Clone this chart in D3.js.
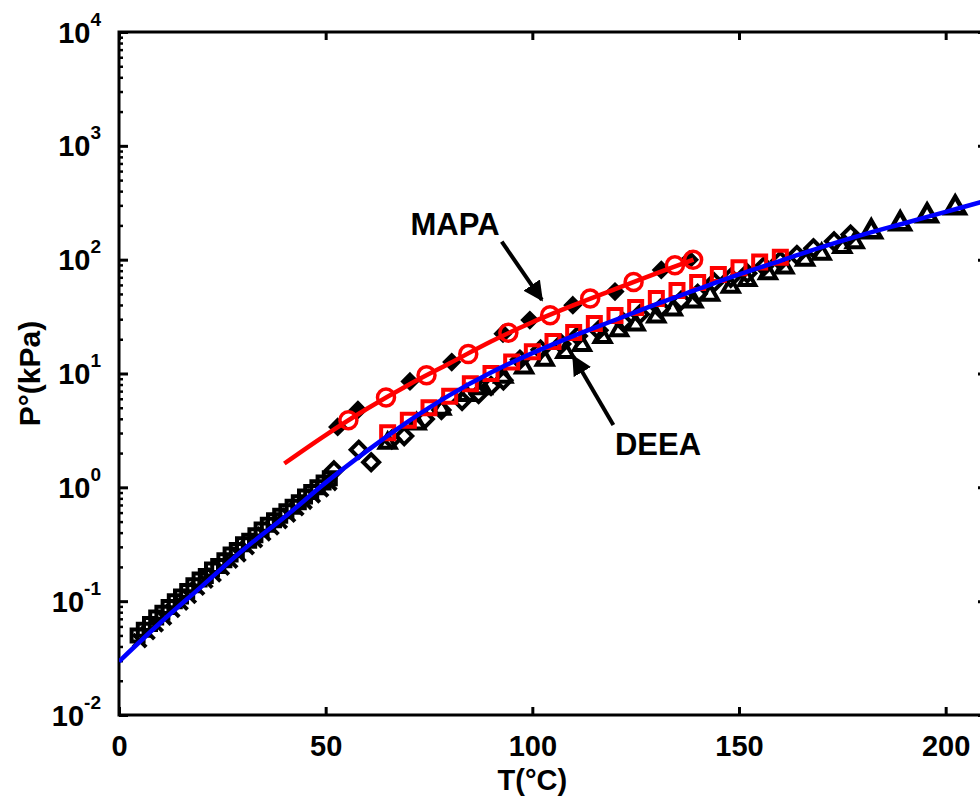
<!DOCTYPE html>
<html>
<head>
<meta charset="utf-8">
<script src="https://cdn.jsdelivr.net/npm/d3@7"></script>
<style>
    body { margin: 0; background: #fff; }
    text { font-family: "Liberation Sans", Arial, Helvetica, sans-serif; font-weight: bold; fill: #000; }
</style>
</head>
<body>
<div id="chart"></div>
<script>
// ---- data (T in degC, P in kPa) ----
const xTicks = [0, 50, 100, 150, 200];
const yTicks = [1e-2, 1e-1, 1e0, 1e1, 1e2, 1e3, 1e4];
const yExponents = ["-2", "-1", "0", "1", "2", "3", "4"];

// blue model curve (DEEA)
const blueT = [0, 10, 20, 30, 40, 50, 60, 70, 80, 90, 100, 110, 120, 130, 140, 150, 160, 170, 180, 190, 200, 210];
const blueP = [0.0295, 0.0646, 0.135, 0.282, 0.545, 1.10, 2.09, 3.80, 6.46, 10.2, 15.1, 21.4, 29.5, 40.7, 55.0, 74.1, 97.7, 129, 166, 209, 263, 331];

// red model curve (MAPA)
const mapaT = [40, 50, 60, 70, 80, 90, 100, 110, 120, 130, 139];
const mapaP = [1.62, 2.88, 4.90, 7.94, 12.3, 19.1, 28.2, 39.8, 55.0, 75.9, 100];

// red circles (MAPA, this work)
const mapaCircT = [55.5, 64.6, 74.4, 84.5, 94.2, 104.3, 114, 124.5, 134.5, 138.9];
const mapaCircP = [3.89, 6.15, 9.66, 14.8, 22.8, 32.5, 45.5, 63.7, 89.3, 100];

// black markers behind the MAPA circles (literature)
const mapaLitT = [52.9, 57.8, 70.4, 80.5, 92.9, 99.4, 109.8, 120, 131.2, 138];
const mapaLitP = [3.39, 4.79, 8.51, 12.6, 22.4, 29.5, 39.8, 52.5, 81.3, 100];

// red squares (DEEA, this work)
const deeaSqT = [65, 70, 75, 80, 85, 90, 95, 100, 105, 110, 115, 120, 125, 130, 135, 140, 145, 150, 155, 160];
const deeaSqP = [3.02, 3.89, 5.01, 6.31, 8.13, 10.0, 12.6, 15.5, 19.1, 22.9, 27.5, 32.4, 38.0, 45.7, 53.7, 63.1, 74.1, 85.1, 95.5, 105];

// black literature data for DEEA
const litSqT = [4.5, 6, 7.5, 9, 10.5, 12, 13.5, 15, 16.5, 18, 19.5, 21, 22.5, 24, 25.5, 27, 28.5, 30, 31.5, 33, 34.5, 36, 37.5, 39, 40.5, 42, 43.5, 45, 46.5, 48, 49.5, 51];
const litSqP = [0.050, 0.056, 0.063, 0.072, 0.079, 0.089, 0.100, 0.110, 0.123, 0.138, 0.155, 0.166, 0.190, 0.204, 0.229, 0.257, 0.282, 0.316, 0.339, 0.380, 0.427, 0.468, 0.513, 0.562, 0.617, 0.676, 0.741, 0.832, 0.912, 1.00, 1.10, 1.20];

const litCrossT = [5, 7, 9, 11, 13, 15, 17, 19, 21, 23, 25, 27, 29, 31, 33, 35, 37, 39, 41, 43, 45, 47, 49, 51];
const litCrossP = [0.045, 0.053, 0.062, 0.071, 0.083, 0.096, 0.11, 0.13, 0.15, 0.17, 0.195, 0.225, 0.255, 0.295, 0.34, 0.39, 0.44, 0.50, 0.57, 0.65, 0.74, 0.84, 0.95, 1.08];

const litDiaT = [52, 58, 61, 66, 69, 74, 78, 83, 87, 90, 93, 97, 102, 107, 111, 116, 122, 126, 131, 136, 140, 144, 148, 152, 156, 160, 164, 168, 173, 177];
const litDiaP = [1.41, 2.14, 1.66, 2.63, 2.82, 3.98, 4.79, 5.75, 6.61, 7.76, 8.71, 13.2, 16.2, 18.2, 21.4, 24.0, 28.2, 33.1, 37.2, 43.7, 50.1, 63.1, 69.2, 75.9, 87.1, 97.7, 110, 126, 145, 166];

const litTriT = [65, 72, 78, 84, 88, 93, 98, 103, 108, 112, 117, 121, 125, 130, 134, 139, 143, 148, 152, 157, 161, 166, 170, 175, 178, 182, 189, 195.5, 202.3];
const litTriP = [2.51, 3.72, 5.01, 6.61, 7.59, 9.55, 11.5, 13.5, 15.8, 18.2, 21.4, 24.5, 27.5, 32.4, 37.2, 43.7, 50.1, 58.9, 67.6, 77.6, 87.1, 102, 115, 132, 145, 182, 214, 251, 295];

// annotations (data coordinates)
const notes = [
    {label: "MAPA", tx: 81.3, tp: 165, x0: 92.6, p0: 144, x1: 102.3, p1: 44.3},
    {label: "DEEA", tx: 130.4, tp: 1.92, x0: 119.6, p0: 3.53, x1: 109.9, p1: 14.1}
];

// ---- chart ----
const width = 980, height = 798;
const plot = {left: 119, right: 987, top: 32, bottom: 715};

const svg = d3.select("#chart").append("svg")
    .attr("width", width)
    .attr("height", height);

const x = d3.scaleLinear().domain([0, 210]).range([plot.left, plot.right]);
const y = d3.scaleLog().domain([1e-2, 1e4]).range([plot.bottom, plot.top]);

svg.append("clipPath").attr("id", "clip")
    .append("rect")
    .attr("x", plot.left).attr("y", plot.top)
    .attr("width", plot.right - plot.left).attr("height", plot.bottom - plot.top);

// minor log ticks
const minorTicks = [];
for (let e = -2; e < 4; e++) {
    for (let m = 2; m <= 9; m++) minorTicks.push(m * Math.pow(10, e));
}

function styleAxis(g, w) {
    g.select(".domain").remove();
    g.selectAll(".tick line").attr("stroke", "#000").attr("stroke-width", w);
}

// bottom axis
const xG = svg.append("g")
    .attr("transform", `translate(0,${plot.bottom})`)
    .call(d3.axisBottom(x).tickValues(xTicks).tickSize(-8).tickPadding(20).tickSizeOuter(0));
styleAxis(xG, 3);
xG.selectAll(".tick text").style("font-size", "29px");

// top axis
const xTopG = svg.append("g")
    .attr("transform", `translate(0,${plot.top})`)
    .call(d3.axisTop(x).tickValues(xTicks).tickSize(-8).tickFormat(() => "").tickSizeOuter(0));
styleAxis(xTopG, 3);

// left axis, major + minor
const yG = svg.append("g")
    .attr("transform", `translate(${plot.left},0)`)
    .call(d3.axisLeft(y).tickValues(yTicks).tickSize(-9).tickPadding(18).tickSizeOuter(0));
styleAxis(yG, 3);
yG.selectAll(".tick text").each(function(d, i) {
    const t = d3.select(this).text(null).attr("dy", null).attr("y", 10);
    t.append("tspan").style("font-size", "29px").text("10");
    t.append("tspan").style("font-size", "19px").attr("dy", -17).text(yExponents[i]);
});
const yMinG = svg.append("g")
    .attr("transform", `translate(${plot.left},0)`)
    .call(d3.axisLeft(y).tickValues(minorTicks).tickSize(-4).tickFormat(() => "").tickSizeOuter(0));
styleAxis(yMinG, 2.5);

// right axis (mostly outside the picture)
const yRG = svg.append("g")
    .attr("transform", `translate(${plot.right},0)`)
    .call(d3.axisRight(y).tickValues(yTicks).tickSize(-9).tickFormat(() => "").tickSizeOuter(0));
styleAxis(yRG, 3);
const yRMinG = svg.append("g")
    .attr("transform", `translate(${plot.right},0)`)
    .call(d3.axisRight(y).tickValues(minorTicks).tickSize(-4).tickFormat(() => "").tickSizeOuter(0));
styleAxis(yRMinG, 2.5);

// box
svg.append("rect")
    .attr("x", plot.left).attr("y", plot.top)
    .attr("width", plot.right - plot.left).attr("height", plot.bottom - plot.top)
    .attr("fill", "none").attr("stroke", "#000").attr("stroke-width", 3);

// axis titles
svg.append("text")
    .attr("x", x(100)).attr("y", 790)
    .attr("text-anchor", "middle")
    .style("font-size", "29px")
    .text("T(°C)");

svg.append("text")
    .attr("transform", `translate(40,${(plot.top + plot.bottom) / 2}) rotate(-90)`)
    .attr("text-anchor", "middle")
    .style("font-size", "30px")
    .text("P°(kPa)");

// marker shapes
function shape(type, s) {
    const h = s / 2;
    if (type === "square") return `M${-h},${-h}H${h}V${h}H${-h}Z`;
    if (type === "diamond") return `M0,${-h}L${h},0L0,${h}L${-h},0Z`;
    if (type === "triangle") return `M0,${-h}L${h},${h * 0.75}L${-h},${h * 0.75}Z`;
    if (type === "cross") return `M${-h},${-h}L${h},${h}M${-h},${h}L${h},${-h}`;
    return "";
}

const body = svg.append("g").attr("clip-path", "url(#clip)");

function markers(ts, ps, type, size, color, fill, sw) {
    body.append("g")
        .selectAll("path")
        .data(ts.map((t, i) => ({t: t, p: ps[i]})))
        .join("path")
        .attr("transform", d => `translate(${x(d.t)},${y(d.p)})`)
        .attr("d", shape(type, size))
        .attr("fill", fill)
        .attr("stroke", color)
        .attr("stroke-width", sw)
        .attr("stroke-linejoin", "miter");
}

const line = d3.line()
    .x(d => x(d.t))
    .y(d => y(d.p))
    .curve(d3.curveCatmullRom);

// literature data (black)
markers(litCrossT, litCrossP, "cross", 13, "#000", "none", 4);
markers(litSqT, litSqP, "square", 12, "#000", "none", 4);
markers(litDiaT, litDiaP, "diamond", 16, "#000", "none", 4);
markers(litTriT.slice(0, 25), litTriP.slice(0, 25), "triangle", 16, "#000", "none", 4);
markers(litTriT.slice(25), litTriP.slice(25), "triangle", 19, "#000", "none", 4.5);
markers(mapaLitT, mapaLitP, "diamond", 15, "#000", "#000", 3);

// DEEA squares (red)
markers(deeaSqT, deeaSqP, "square", 13, "#ff0000", "none", 4);

// MAPA curve + circles
body.append("path")
    .datum(mapaT.map((t, i) => ({t: t, p: mapaP[i]})))
    .attr("d", line)
    .attr("fill", "none")
    .attr("stroke", "#ff0000")
    .attr("stroke-width", 4.5);

body.append("g")
    .selectAll("circle")
    .data(mapaCircT.map((t, i) => ({t: t, p: mapaCircP[i]})))
    .join("circle")
    .attr("cx", d => x(d.t))
    .attr("cy", d => y(d.p))
    .attr("r", 8.5)
    .attr("fill", "none")
    .attr("stroke", "#ff0000")
    .attr("stroke-width", 3.5);

// DEEA model curve
body.append("path")
    .datum(blueT.map((t, i) => ({t: t, p: blueP[i]})))
    .attr("d", line)
    .attr("fill", "none")
    .attr("stroke", "#0000ff")
    .attr("stroke-width", 4.5);

// annotations
svg.append("defs").append("marker")
    .attr("id", "head")
    .attr("viewBox", "0 0 10 10")
    .attr("refX", 9).attr("refY", 5)
    .attr("markerWidth", 5).attr("markerHeight", 5)
    .attr("markerUnits", "strokeWidth")
    .attr("orient", "auto")
    .append("path")
    .attr("d", "M0,0L10,5L0,10Z")
    .attr("fill", "#000");

notes.forEach(n => {
    svg.append("line")
        .attr("x1", x(n.x0)).attr("y1", y(n.p0))
        .attr("x2", x(n.x1)).attr("y2", y(n.p1))
        .attr("stroke", "#000")
        .attr("stroke-width", 4)
        .attr("marker-end", "url(#head)");
    svg.append("text")
        .attr("x", x(n.tx)).attr("y", y(n.tp))
        .attr("text-anchor", "middle")
        .style("font-size", "31px")
        .text(n.label);
});
</script>
</body>
</html>
